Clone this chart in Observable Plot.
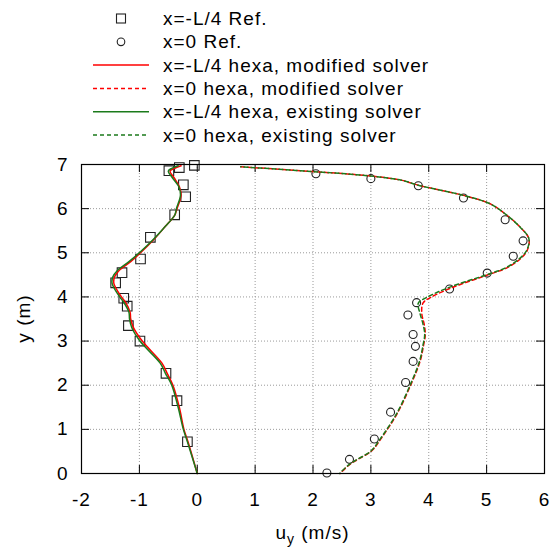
<!DOCTYPE html>
<html><head><meta charset="utf-8">
<script src="https://cdn.jsdelivr.net/npm/d3@7"></script>
<script src="https://cdn.jsdelivr.net/npm/@observablehq/plot@0.6"></script>
<style>
body{margin:0;background:#fff;}
#chart{width:555px;height:552px;}
svg{display:block;}
</style>
</head><body><div id="chart"></div>
<script>
// ---- data ----
const xTicks = [-2, -1, 0, 1, 2, 3, 4, 5, 6];
const yTicks = [0, 1, 2, 3, 4, 5, 6, 7];

// x=-L/4 reference (squares)
const refQuarterU = [-0.05, -0.31, -0.49, -0.24, -0.20, -0.39, -0.81, -0.98, -1.30, -1.41, -1.27, -1.21, -1.19, -0.99, -0.54, -0.35, -0.17];
const refQuarterY = [6.98, 6.93, 6.86, 6.54, 6.27, 5.86, 5.35, 4.86, 4.55, 4.32, 3.97, 3.79, 3.35, 3.00, 2.27, 1.65, 0.72];

// x=0 reference (circles)
const refCenterU = [2.05, 3.00, 3.82, 4.60, 5.32, 5.63, 5.46, 5.01, 4.36, 3.79, 3.64, 3.73, 3.77, 3.73, 3.60, 3.34, 3.06, 2.63, 2.24];
const refCenterY = [6.79, 6.68, 6.52, 6.24, 5.75, 5.27, 4.92, 4.54, 4.18, 3.87, 3.59, 3.15, 2.88, 2.54, 2.06, 1.39, 0.78, 0.32, 0.01];

// x=-L/4 hexa profiles
const quarterY      = [0, 0.72, 1.0, 1.5, 2.0, 2.27, 2.5, 3.0, 3.3, 3.5, 3.65, 3.88, 4.0, 4.3, 4.45, 4.6, 4.8, 5.0, 5.3, 5.6, 5.85, 6.0, 6.3, 6.5, 6.7, 6.85, 6.92, 6.97];
const quarterModU   = [0, -0.16, -0.23, -0.31, -0.42, -0.52, -0.61, -0.95, -1.10, -1.15, -1.16, -1.24, -1.31, -1.44, -1.43, -1.35, -1.15, -0.98, -0.75, -0.55, -0.39, -0.35, -0.28, -0.31, -0.40, -0.47, -0.38, -0.28];
const quarterExU    = [0, -0.17, -0.24, -0.33, -0.44, -0.55, -0.64, -0.99, -1.13, -1.17, -1.18, -1.27, -1.34, -1.47, -1.46, -1.38, -1.18, -1.00, -0.76, -0.55, -0.39, -0.36, -0.29, -0.32, -0.43, -0.50, -0.43, -0.33];

// x=0 hexa profiles
const centerY     = [6.95, 6.92, 6.84, 6.74, 6.64, 6.53, 6.30, 6.11, 5.85, 5.58, 5.32, 5.05, 4.86, 4.66, 4.49, 4.21, 3.98, 3.86, 3.62, 3.39, 3.15, 2.90, 2.54, 2.07, 1.37, 0.78, 0.52, 0.33, 0.22, 0.03, 0];
const centerModU  = [0.75, 1.09, 2.00, 2.99, 3.54, 3.82, 4.60, 5.06, 5.35, 5.58, 5.73, 5.70, 5.58, 5.35, 5.00, 4.40, 4.02, 3.90, 3.88, 3.92, 3.94, 3.91, 3.85, 3.71, 3.46, 3.17, 3.02, 2.79, 2.65, 2.49, 2.47];
const centerExU   = [0.75, 1.09, 2.00, 2.99, 3.54, 3.82, 4.60, 5.06, 5.35, 5.58, 5.73, 5.69, 5.56, 5.33, 4.97, 4.34, 3.95, 3.82, 3.85, 3.90, 3.93, 3.90, 3.84, 3.70, 3.45, 3.16, 3.01, 2.78, 2.64, 2.48, 2.46];

const legendLabels = ["x=-L/4 Ref.", "x=0 Ref.", "x=-L/4 hexa, modified solver", "x=0 hexa, modified solver", "x=-L/4 hexa, existing solver", "x=0 hexa, existing solver"];

const RED = "#ff0000", GREEN = "#1b7a1b";
const FONT = "'Liberation Sans', Arial, sans-serif";
const FS = 19, LS = "1px";

const zipPts = (us, ys) => us.map((u, i) => ({u, y: ys[i]}));
const refQuarter = zipPts(refQuarterU, refQuarterY);
const refCenter = zipPts(refCenterU, refCenterY);
const quarterMod = zipPts(quarterModU, quarterY);
const quarterEx = zipPts(quarterExU, quarterY);
const centerMod = zipPts(centerModU, centerY);
const centerEx = zipPts(centerExU, centerY);

// ---- legend (above the plot) ----
const legendH = 150;
const leg = d3.select("#chart").append("svg").attr("width", 555).attr("height", legendH)
  .style("font-family", FONT).style("font-size", FS + "px").style("letter-spacing", LS);
const legendStyles = [
  {kind: "square"}, {kind: "circle"},
  {kind: "line", color: RED, dash: null},
  {kind: "line", color: RED, dash: "4,3"},
  {kind: "line", color: GREEN, dash: null},
  {kind: "line", color: GREEN, dash: "4,3"}
];
legendLabels.forEach((lab, i) => {
  const base = 25 + i * 23.3;
  const cy = base - 6.5;
  const st = legendStyles[i];
  if (st.kind === "square") {
    leg.append("rect").attr("x", 116.5).attr("y", cy - 4.5).attr("width", 9).attr("height", 9)
      .attr("fill", "none").attr("stroke", "#222").attr("stroke-width", 1.1);
  } else if (st.kind === "circle") {
    leg.append("circle").attr("cx", 121).attr("cy", cy).attr("r", 3.8)
      .attr("fill", "none").attr("stroke", "#222").attr("stroke-width", 1.1);
  } else {
    leg.append("line").attr("x1", 93).attr("x2", 149).attr("y1", cy).attr("y2", cy)
      .attr("stroke", st.color).attr("stroke-width", 1.5).attr("stroke-dasharray", st.dash);
  }
  leg.append("text").attr("x", 163).attr("y", base).attr("fill", "#000").text(lab);
});

// ---- plot ----
const W = 555, H = 552 - legendH;
const mL = 81, mR = 11, mT = 14, mB = 79;
const plotW = W - mL - mR, plotH = H - mT - mB, tickLen = 8;

const chart = Plot.plot({
  width: W, height: H,
  marginLeft: mL, marginRight: mR, marginTop: mT, marginBottom: mB,
  style: {fontFamily: FONT, fontSize: FS + "px", color: "#000", background: "#fff", overflow: "visible"},
  x: {domain: [-2, 6]},
  y: {domain: [0, 7]},
  marks: [
    Plot.gridX(xTicks, {stroke: "#9a9a9a", strokeOpacity: 1, strokeDasharray: "1,2"}),
    Plot.gridY(yTicks, {stroke: "#9a9a9a", strokeOpacity: 1, strokeDasharray: "1,2"}),
    Plot.tickX(xTicks, {x: d => d, insetTop: plotH - tickLen, stroke: "#000"}),
    Plot.tickX(xTicks, {x: d => d, insetBottom: plotH - tickLen, stroke: "#000"}),
    Plot.tickY(yTicks, {y: d => d, insetRight: plotW - tickLen, stroke: "#000"}),
    Plot.tickY(yTicks, {y: d => d, insetLeft: plotW - tickLen, stroke: "#000"}),
    Plot.axisX({ticks: xTicks, tickSize: 0, tickPadding: 19, label: null, tickFormat: d => d < 0 ? "-" + Math.abs(d) : String(d)}),
    Plot.axisY({ticks: yTicks, tickSize: 0, tickPadding: 13, label: null, tickFormat: d => String(d)}),
    Plot.dot(refQuarter, {x: "u", y: "y", symbol: "square", r: 5.4, stroke: "#222", strokeWidth: 1.1, fill: "none"}),
    Plot.dot(refCenter, {x: "u", y: "y", symbol: "circle", r: 4, stroke: "#222", strokeWidth: 1.1, fill: "none"}),
    Plot.line(quarterMod, {x: "u", y: "y", stroke: RED, strokeWidth: 1.5, curve: "catmull-rom"}),
    Plot.line(centerMod, {x: "u", y: "y", stroke: RED, strokeWidth: 1.5, strokeDasharray: "4,3", curve: "catmull-rom"}),
    Plot.line(quarterEx, {x: "u", y: "y", stroke: GREEN, strokeWidth: 1.5, curve: "catmull-rom"}),
    Plot.line(centerEx, {x: "u", y: "y", stroke: GREEN, strokeWidth: 1.5, strokeDasharray: "4,3", strokeDashoffset: 3.5, curve: "catmull-rom"}),
    Plot.frame({stroke: "#000", strokeWidth: 1.2})
  ]
});
document.getElementById("chart").appendChild(chart);

const svg = d3.select(chart);
svg.selectAll("text").style("letter-spacing", LS);
// x-axis label with subscript
const xl = svg.append("text").attr("x", mL + plotW / 2).attr("y", H - 13)
  .attr("text-anchor", "middle").attr("fill", "#000")
  .style("font-family", FONT).style("font-size", FS + "px").style("letter-spacing", LS);
xl.append("tspan").text("u");
xl.append("tspan").attr("dy", 5).style("font-size", "14px").text("y");
xl.append("tspan").attr("dy", -5).text(" (m/s)");
// y-axis label
svg.append("text").attr("transform", `translate(24.5,${mT + plotH / 2}) rotate(-90)`)
  .attr("dy", "0.3em").attr("text-anchor", "middle").attr("fill", "#000")
  .style("font-family", FONT).style("font-size", FS + "px").style("letter-spacing", LS)
  .text("y (m)");
</script>
</body></html>
